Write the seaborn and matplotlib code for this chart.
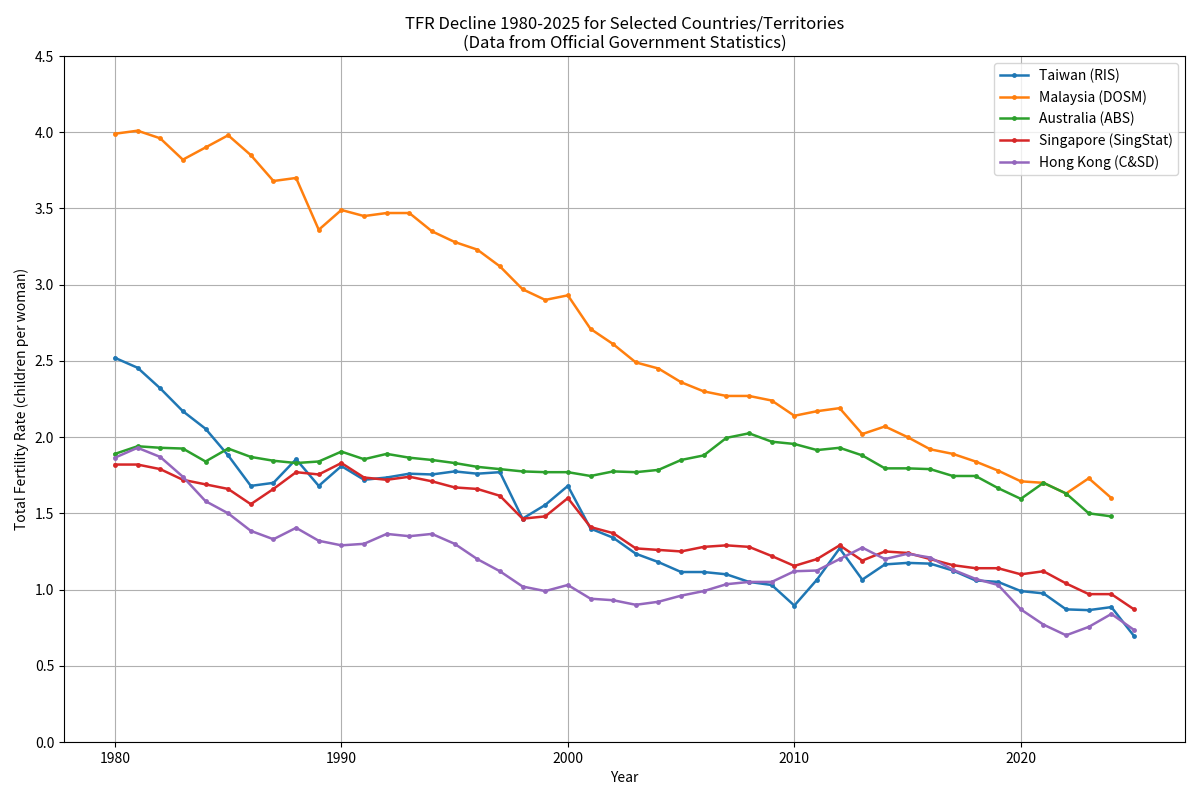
import pandas as pd
import matplotlib
matplotlib.use("Agg")
import matplotlib.pyplot as plt
import seaborn as sns

# Data
years_full = list(range(1980, 2026))
years_2024 = list(range(1980, 2025))

taiwan = [2.52, 2.455, 2.32, 2.17, 2.055, 1.88, 1.68, 1.70, 1.855, 1.68,
          1.81, 1.72, 1.735, 1.76, 1.755, 1.775, 1.76, 1.77, 1.465, 1.555,
          1.68, 1.40, 1.34, 1.235, 1.18, 1.115, 1.115, 1.10, 1.05, 1.03,
          0.895, 1.065, 1.27, 1.065, 1.165, 1.175, 1.17, 1.125, 1.06, 1.05,
          0.99, 0.975, 0.87, 0.865, 0.885, 0.695]
malaysia = [3.99, 4.01, 3.96, 3.82, 3.90, 3.98, 3.85, 3.68, 3.70, 3.36,
            3.49, 3.45, 3.47, 3.47, 3.35, 3.28, 3.23, 3.12, 2.97, 2.90,
            2.93, 2.71, 2.61, 2.49, 2.45, 2.36, 2.30, 2.27, 2.27, 2.24,
            2.14, 2.17, 2.19, 2.02, 2.07, 2.00, 1.92, 1.89, 1.84, 1.78,
            1.71, 1.70, 1.63, 1.73, 1.60]
australia = [1.89, 1.94, 1.93, 1.925, 1.84, 1.925, 1.87, 1.845, 1.83, 1.84,
             1.905, 1.855, 1.89, 1.865, 1.85, 1.83, 1.805, 1.79, 1.775, 1.77,
             1.77, 1.745, 1.775, 1.77, 1.785, 1.85, 1.88, 1.995, 2.025, 1.97,
             1.955, 1.915, 1.93, 1.88, 1.795, 1.795, 1.79, 1.745, 1.745, 1.665,
             1.595, 1.70, 1.63, 1.50, 1.48]
singapore = [1.82, 1.82, 1.79, 1.72, 1.69, 1.66, 1.56, 1.66, 1.77, 1.755,
             1.83, 1.735, 1.72, 1.74, 1.71, 1.67, 1.66, 1.615, 1.465, 1.48,
             1.60, 1.41, 1.37, 1.27, 1.26, 1.25, 1.28, 1.29, 1.28, 1.22,
             1.155, 1.20, 1.29, 1.19, 1.25, 1.24, 1.20, 1.16, 1.14, 1.14,
             1.10, 1.12, 1.04, 0.97, 0.97, 0.87]
hong_kong = [1.865, 1.93, 1.87, 1.74, 1.58, 1.50, 1.385, 1.33, 1.405, 1.32,
             1.29, 1.30, 1.365, 1.35, 1.365, 1.30, 1.20, 1.12, 1.02, 0.99,
             1.03, 0.94, 0.93, 0.90, 0.92, 0.96, 0.99, 1.035, 1.05, 1.05,
             1.12, 1.125, 1.20, 1.275, 1.20, 1.235, 1.21, 1.13, 1.07, 1.03,
             0.87, 0.77, 0.70, 0.755, 0.84, 0.735]

series = [
    ("Taiwan (RIS)", years_full, taiwan),
    ("Malaysia (DOSM)", years_2024, malaysia),
    ("Australia (ABS)", years_2024, australia),
    ("Singapore (SingStat)", years_full, singapore),
    ("Hong Kong (C&SD)", years_full, hong_kong),
]

frames = [pd.DataFrame({"Year": yrs, "TFR": vals, "Country": name})
          for name, yrs, vals in series]
df = pd.concat(frames, ignore_index=True)

plt.rcParams['font.family'] = ['Noto Sans CJK SC', 'DejaVu Sans']

fig, ax = plt.subplots(figsize=(12, 8), dpi=100)
sns.lineplot(
    data=df, x="Year", y="TFR", hue="Country",
    palette=sns.color_palette("tab10", 5),
    marker="o", markersize=3.5, markeredgewidth=0,
    linewidth=1.8, ax=ax,
)

ax.set_title("TFR Decline 1980-2025 for Selected Countries/Territories\n"
             "(Data from Official Government Statistics)", fontsize=12)
ax.set_xlabel("Year")
ax.set_ylabel("Total Fertility Rate (children per woman)")
ax.set_ylim(0, 4.5)
ax.set_yticks([0.0, 0.5, 1.0, 1.5, 2.0, 2.5, 3.0, 3.5, 4.0, 4.5])
ax.set_xticks([1980, 1990, 2000, 2010, 2020])
ax.margins(x=0.05)
ax.grid(True, color="#b0b0b0", linewidth=0.8)
ax.legend(loc="upper right", title=None)

fig.subplots_adjust(left=0.0533, right=0.9875, top=0.93, bottom=0.0725)
fig.savefig("out.png")
